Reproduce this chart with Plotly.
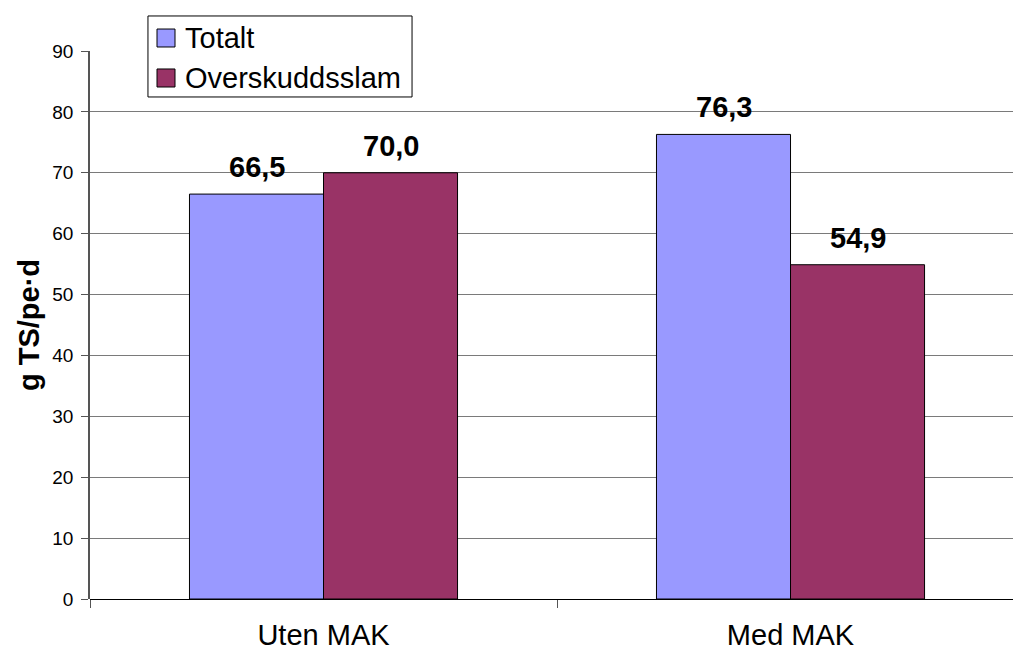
import plotly.graph_objects as go

categories = ["Uten MAK", "Med MAK"]
totalt = [66.5, 76.3]
overskudd = [70.0, 54.9]
series_names = ["Totalt", "Overskuddsslam"]
colors = ["#9999FF", "#993366"]
y_ticks = [0, 10, 20, 30, 40, 50, 60, 70, 80, 90]

FONT = "Liberation Sans, Arial, sans-serif"

fig = go.Figure()
for name, vals, col in zip(series_names, [totalt, overskudd], colors):
    fig.add_trace(go.Bar(
        x=categories, y=vals, name=name,
        marker=dict(color=col, line=dict(color="black", width=1)),
        showlegend=False,
    ))

# data labels
for vals, shift in zip([totalt, overskudd], [-67, 67]):
    for c, v in zip(categories, vals):
        fig.add_annotation(
            x=c, y=v, xref="x", yref="y", text=f"{v:.1f}".replace(".", ","),
            showarrow=False, xshift=shift, yshift=9, yanchor="bottom",
            font=dict(family=FONT, size=29, color="black", weight="bold"),
        )

# custom legend (paper coordinates)
fig.add_shape(type="rect", xref="paper", yref="paper",
              x0=0.0628, x1=0.3489, y0=0.9161, y1=1.0639,
              fillcolor="white", line=dict(color="black", width=1), layer="above")
rows = [(1.0401, 1.0073, 1.0237), (0.9672, 0.9343, 0.9507)]
for (y1, y0, yc), name, col in zip(rows, series_names, colors):
    fig.add_shape(type="rect", xref="paper", yref="paper",
                  x0=0.0726, x1=0.0921, y0=y0, y1=y1,
                  fillcolor=col, line=dict(color="black", width=1), layer="above")
    fig.add_annotation(x=0.1008, y=yc, xref="paper", yref="paper", text=name,
                       showarrow=False, xanchor="left", yanchor="middle",
                       font=dict(family=FONT, size=29, color="black"))

fig.update_layout(
    width=1013, height=653,
    margin=dict(l=90, r=0, t=51, b=54),
    paper_bgcolor="white", plot_bgcolor="white",
    font=dict(family=FONT, color="black"),
    barmode="group", bargap=0.426, bargroupgap=0,
    showlegend=False,
    xaxis=dict(
        range=[-0.5, 1.4764], showgrid=False,
        ticks="outside", ticklen=8, tickcolor="#555",
        tickson="boundaries", ticklabelstandoff=16,
        tickfont=dict(size=29), showline=False,
    ),
    yaxis=dict(
        range=[0, 90], tickvals=y_ticks, showgrid=True,
        gridcolor="#7a7a7a", gridwidth=1,
        ticks="outside", ticklen=7, tickcolor="#555",
        showline=True, linecolor="#555", linewidth=1.5,
        zeroline=True, zerolinecolor="black", zerolinewidth=1,
        tickfont=dict(size=19), ticklabelstandoff=4,
        title=dict(text="g TS/pe·d", font=dict(size=29, weight="bold"), standoff=4),
    ),
)

fig.write_html("out.html", config={"displayModeBar": False},
               post_script="document.body.style.margin='0';")
